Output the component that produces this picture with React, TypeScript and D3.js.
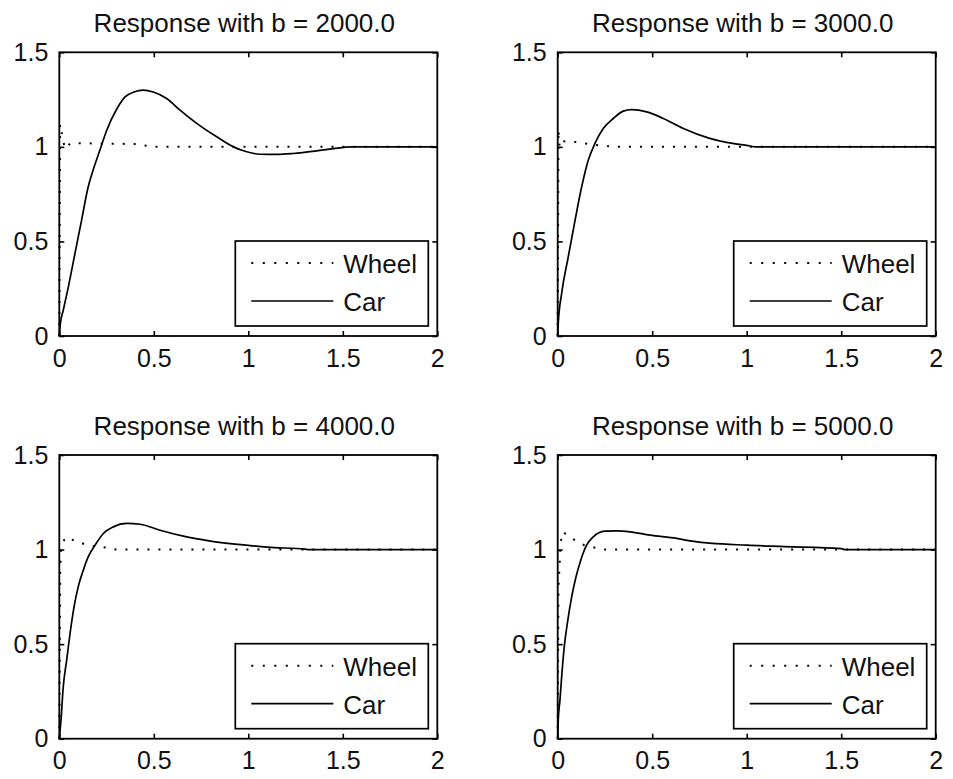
import React, {useEffect, useRef} from 'react';
import * as d3 from 'd3';

const titles = [
    'Response with b = 2000.0',
    'Response with b = 3000.0',
    'Response with b = 4000.0',
    'Response with b = 5000.0'
];
const legendLabels = ['Wheel', 'Car'];
const xTicks = [0, 0.5, 1, 1.5, 2];
const yTicks = [0, 0.5, 1, 1.5];

// [time, response]
const wheel2000 = [[0, 0], [0.004, 1.12], [0.015, 1.06], [0.03, 0.99], [0.06, 1.02], [0.4, 1.015], [0.5, 1.0], [2, 1.0]];
const car2000 = [[0, 0], [0.005, 0.06], [0.021, 0.137], [0.048, 0.26], [0.083, 0.437], [0.118, 0.613], [0.153, 0.789],
    [0.18, 0.88], [0.215, 0.983], [0.251, 1.088], [0.304, 1.2], [0.348, 1.264], [0.395, 1.29], [0.444, 1.3],
    [0.497, 1.29], [0.568, 1.256], [0.639, 1.194], [0.727, 1.124], [0.833, 1.053], [0.921, 1.0], [0.992, 0.974],
    [1.062, 0.961], [1.15, 0.96], [1.238, 0.965], [1.362, 0.979], [1.45, 0.991], [1.547, 1.0], [1.6, 1.0], [2, 1.0]];

const wheel3000 = [[0, 0], [0.004, 1.09], [0.01, 1.0], [0.02, 1.03], [0.1, 1.025], [0.2, 1.01], [0.3, 1.0], [2, 1.0]];
const car3000 = [[0, 0], [0.003, 0.067], [0.021, 0.226], [0.056, 0.419], [0.092, 0.613], [0.127, 0.789], [0.162, 0.93],
    [0.197, 1.018], [0.241, 1.097], [0.294, 1.15], [0.347, 1.189], [0.392, 1.197], [0.471, 1.185], [0.559, 1.15],
    [0.665, 1.097], [0.8, 1.046], [0.9, 1.022], [1.0, 1.008], [1.05, 1.0], [2, 1.0]];

const wheel4000 = [[0, 0], [0.005, 0.9], [0.01, 1.0], [0.03, 1.064], [0.088, 1.046], [0.147, 1.023], [0.247, 1.011],
    [0.3, 1.0], [2, 1.0]];
const car4000 = [[0, 0], [0.009, 0.099], [0.021, 0.275], [0.039, 0.416], [0.057, 0.557], [0.078, 0.697], [0.1, 0.803],
    [0.127, 0.891], [0.153, 0.961], [0.189, 1.023], [0.233, 1.085], [0.286, 1.12], [0.357, 1.138], [0.428, 1.134],
    [0.533, 1.102], [0.674, 1.067], [0.8, 1.045], [1.0, 1.022], [1.1, 1.013], [1.3, 1.002], [1.32, 1.0], [2, 1.0]];

const wheel5000 = [[0, 0], [0.004, 0.8], [0.016, 1.04], [0.026, 1.094], [0.082, 1.055], [0.141, 1.023], [0.192, 1.011],
    [0.24, 1.0], [2, 1.0]];
const car5000 = [[0, 0], [0.003, 0.099], [0.012, 0.204], [0.021, 0.328], [0.033, 0.469], [0.051, 0.61], [0.074, 0.75],
    [0.097, 0.856], [0.122, 0.944], [0.153, 1.023], [0.188, 1.067], [0.25, 1.097], [0.312, 1.099], [0.383, 1.094],
    [0.488, 1.076], [0.63, 1.059], [0.7, 1.046], [1.0, 1.023], [1.2, 1.016], [1.5, 1.005], [1.52, 1.0], [2, 1.0]];

const wheels = [wheel2000, wheel3000, wheel4000, wheel5000];
const cars = [car2000, car3000, car4000, car5000];

export default function App() {
    const svgRef = useRef<SVGSVGElement>(null);

    useEffect(() => {
        const W = 953, H = 779;
        const font = '"Liberation Sans", Arial, sans-serif';
        const svg = d3.select(svgRef.current);
        svg.selectAll('*').remove();
        svg.attr('width', W).attr('height', H);

        svg.append('rect').attr('width', W).attr('height', H).attr('fill', 'white');

        const panelX = [59.3, 557.7];
        const panelY = [52.3, 455];
        const pw = 378, ph = 283.7;

        titles.forEach((title, i) => {
            const x0 = panelX[i % 2], y0 = panelY[Math.floor(i / 2)];
            const g = svg.append('g').attr('transform', `translate(${x0},${y0})`);

            const x = d3.scaleLinear().domain([0, 2]).range([0, pw]);
            const y = d3.scaleLinear().domain([0, 1.5]).range([ph, 0]);

            // ticks on all four sides, pointing inward
            const axes = [
                {ax: d3.axisBottom(x), t: `translate(0,${ph})`, labels: true},
                {ax: d3.axisTop(x), t: 'translate(0,0)', labels: false},
                {ax: d3.axisLeft(y), t: 'translate(0,0)', labels: true},
                {ax: d3.axisRight(y), t: `translate(${pw},0)`, labels: false}
            ];
            axes.forEach(({ax, t, labels}, k) => {
                const isX = k < 2;
                ax.tickValues(isX ? xTicks : yTicks)
                    .tickSizeInner(-5)
                    .tickSizeOuter(0)
                    .tickPadding(isX ? 13 : 11)
                    .tickFormat(labels ? (d => String(d)) : () => '');
                const a = g.append('g').attr('transform', t).call(ax);
                a.select('.domain').remove();
                a.selectAll('line').attr('stroke', '#000').attr('stroke-width', 1.6);
                a.selectAll('text')
                    .attr('fill', '#111')
                    .attr('font-family', font)
                    .attr('font-size', '25px');
            });

            g.append('rect')
                .attr('width', pw)
                .attr('height', ph)
                .attr('fill', 'none')
                .attr('stroke', '#000')
                .attr('stroke-width', 1.8);

            const line = d3.line()
                .x(d => x(d[0]))
                .y(d => y(d[1]));

            g.append('path')
                .datum(wheels[i])
                .attr('fill', 'none')
                .attr('stroke', '#000')
                .attr('stroke-width', 2)
                .attr('stroke-dasharray', '2 9')
                .attr('d', line);

            g.append('path')
                .datum(cars[i])
                .attr('fill', 'none')
                .attr('stroke', '#000')
                .attr('stroke-width', 1.7)
                .attr('d', line.curve(d3.curveMonotoneX));

            g.append('text')
                .attr('x', pw / 2 - 4)
                .attr('y', -20.5)
                .attr('text-anchor', 'middle')
                .attr('font-family', font)
                .attr('font-size', '26px')
                .attr('fill', '#111')
                .text(title);

            // legend
            const lw = 193, lh = 85;
            const lg = g.append('g').attr('transform', `translate(${pw - 9 - lw},${ph - 10 - lh})`);
            lg.append('rect')
                .attr('width', lw)
                .attr('height', lh)
                .attr('fill', 'white')
                .attr('stroke', '#000')
                .attr('stroke-width', 1.7);
            legendLabels.forEach((label, k) => {
                const ly = k === 0 ? 22 : 60;
                lg.append('line')
                    .attr('x1', 16).attr('x2', 98)
                    .attr('y1', ly).attr('y2', ly)
                    .attr('stroke', '#000')
                    .attr('stroke-width', k === 0 ? 2 : 1.7)
                    .attr('stroke-dasharray', k === 0 ? '2 9.5' : null);
                lg.append('text')
                    .attr('x', 108)
                    .attr('y', ly + 10)
                    .attr('font-family', font)
                    .attr('font-size', '26px')
                    .attr('fill', '#111')
                    .text(label);
            });
        });
    }, []);

    return (
        <div style={{position: 'absolute', left: 0, top: 0, background: 'white'}}>
            <svg ref={svgRef} style={{display: 'block'}}></svg>
        </div>
    );
}
